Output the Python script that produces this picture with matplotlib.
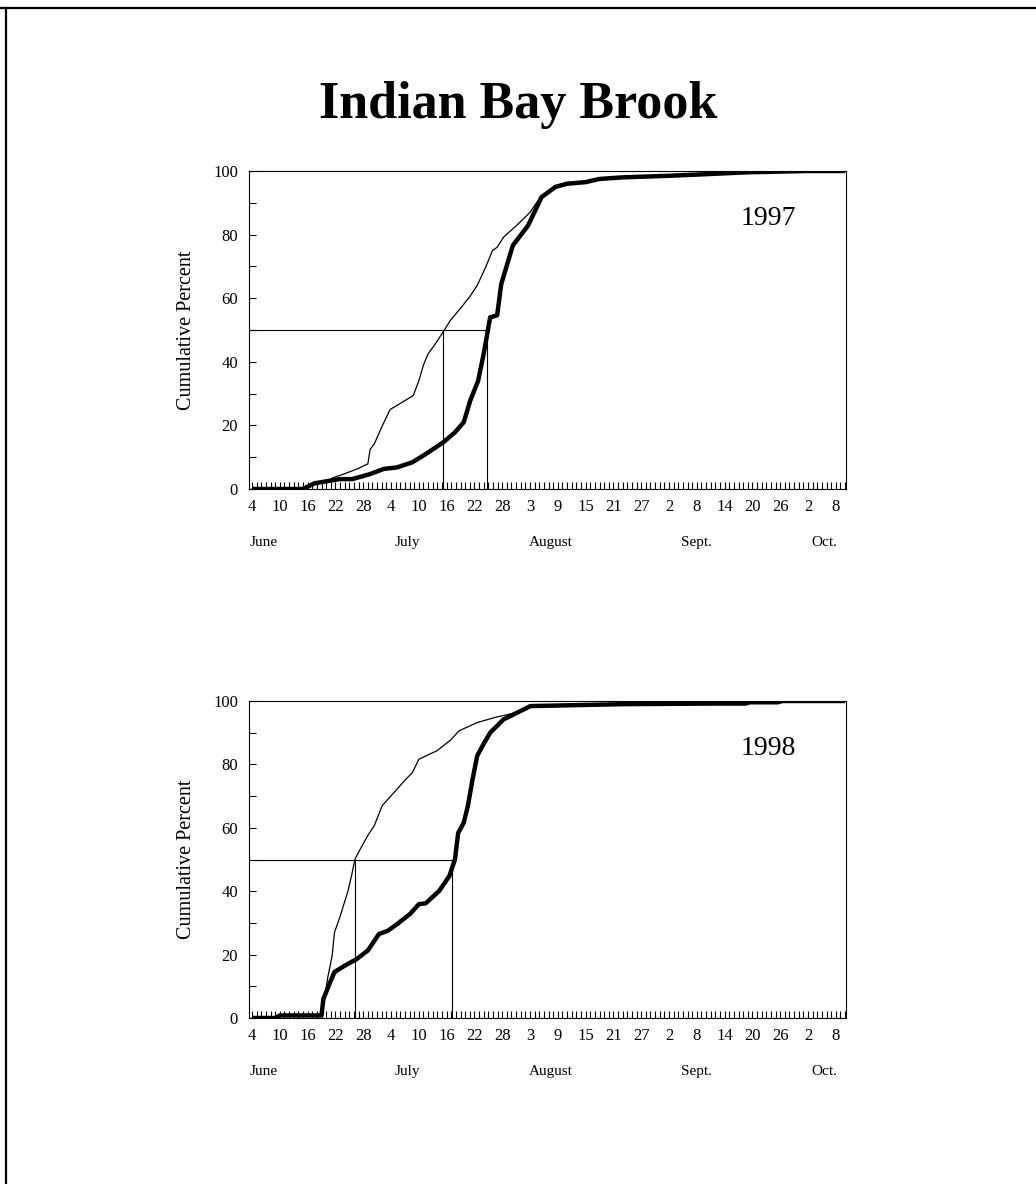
import matplotlib.pyplot as plt
from matplotlib.lines import Line2D
from matplotlib.ticker import MultipleLocator, FixedLocator, FixedFormatter

plt.rcParams['font.family'] = ['Liberation Serif', 'DejaVu Serif']

# days counted from June 4
tick_days = list(range(0, 127, 6))
tick_labels = ["4", "10", "16", "22", "28", "4", "10", "16", "22", "28",
               "3", "9", "15", "21", "27", "2", "8", "14", "20", "26", "2", "8"]
month_names = ["June", "July", "August", "Sept.", "Oct."]
month_days = [2.5, 33.5, 64.5, 96.0, 123.5]

# 1997 cumulative percent (thin and thick curves)
days_97_thin = [0, 11, 13.5, 16, 17.8, 20, 23, 25, 25.5, 26.4, 28, 29.8, 31.3, 33,
                34.8, 36, 37, 38, 39.5, 41.3, 42.8, 45.2, 47, 48.6, 50.5, 51.9,
                52.9, 54.3, 57.2, 60, 62, 62.5]
pct_97_thin = [0, 0, 1.8, 2.5, 3.7, 4.8, 6.5, 7.9, 12.5, 14.2, 19.5, 25, 26.3, 27.8,
               29.4, 34, 39, 42.5, 45.5, 49.5, 53, 57.2, 60.5, 64, 70, 75,
               76, 79.2, 83, 87, 91.3, 92]
days_97_thick = [0, 11, 13.5, 16, 18.8, 21.6, 25.5, 28.4, 31.3, 34.6, 37.5, 41.3,
                 43.8, 45.7, 47.1, 48.8, 50, 51.4, 52.9, 53.8, 56.3, 59.6, 62.5,
                 65.5, 68, 72, 75, 80, 90, 98, 107, 120, 128]
pct_97_thick = [0, 0, 1.8, 2.4, 3.1, 3.1, 4.7, 6.3, 6.8, 8.4, 11, 14.7,
                17.8, 21, 27.8, 34, 42.5, 54, 54.6, 64.5, 76.6, 82.9, 91.8,
                95, 96, 96.5, 97.5, 98, 98.5, 99, 99.6, 100, 100]
median_97 = (41.2, 50.8)

# 1998 cumulative percent
days_98_thin = [0, 5, 6, 15, 15.5, 16.3, 17.3, 17.8, 19, 20.7, 21.5, 22.2, 23, 25,
                26.4, 28.1, 31.3, 33, 34.6, 36, 38, 39.9, 42.8, 44.7, 48.6, 52.4,
                56.3, 57.2]
pct_98_thin = [0, 0, 0.8, 0.8, 4, 12.4, 19.7, 27, 32, 40, 45, 50, 52.3, 57.6,
               60.7, 67, 72.2, 75, 77.4, 81.6, 83, 84.3, 87.6, 90.6, 93.2, 94.8,
               96.1, 96.3]
days_98_thick = [0, 5, 6, 15, 15.4, 16.5, 17.8, 20, 22.6, 25, 27.4, 29.3, 31.3,
                 34.1, 36, 37.5, 40.4, 42.6, 43.8, 44.5, 45.7, 46.6, 47.6, 48.6,
                 50, 51.4, 54.3, 57.2, 60.1, 66.8, 80, 100, 106.5, 107.5, 113.5,
                 114.5, 128]
pct_98_thick = [0, 0, 0.8, 0.8, 6, 10, 14.5, 16.5, 18.6, 21.3, 26.5, 27.5, 29.6,
                32.8, 35.9, 36.2, 40.1, 44.8, 50, 58.4, 61.6, 67, 75.3, 82.7,
                86.5, 90, 94.2, 96.3, 98.4, 98.6, 99, 99.2, 99.2, 99.6, 99.6,
                100, 100]
median_98 = (22.2, 43.1)

X_MIN, X_MAX = -0.65, 128.2


def draw_panel(ax, d_thin, p_thin, d_thick, p_thick, medians, year):
    ax.plot(d_thin, p_thin, color='black', lw=0.9, solid_joinstyle='round')
    ax.plot(d_thick, p_thick, color='black', lw=3.2, solid_joinstyle='round',
            solid_capstyle='butt')
    # 50 % reference lines
    ax.plot([X_MIN, medians[1]], [50, 50], color='black', lw=0.8)
    for m in medians:
        ax.plot([m, m], [0, 50], color='black', lw=0.8)

    ax.set_xlim(X_MIN, X_MAX)
    ax.set_ylim(0, 100)
    ax.xaxis.set_major_locator(FixedLocator(tick_days))
    ax.xaxis.set_major_formatter(FixedFormatter(tick_labels))
    ax.xaxis.set_minor_locator(MultipleLocator(1))
    ax.yaxis.set_major_locator(MultipleLocator(20))
    ax.yaxis.set_minor_locator(MultipleLocator(10))
    ax.tick_params(axis='x', which='both', direction='in', length=5, width=0.8,
                   labelsize=12, pad=7)
    ax.tick_params(axis='y', which='both', direction='in', length=5, width=0.8,
                   labelsize=12, pad=8)
    for s in ax.spines.values():
        s.set_linewidth(0.8)
    ax.set_ylabel("Cumulative Percent", fontsize=14.5, labelpad=12.5)
    ax.text(111.5, 85, year, fontsize=20, ha='center', va='center')
    for name, d in zip(month_names, month_days):
        ax.text(d, -16.8, name, fontsize=11, ha='center', va='center')


fig = plt.figure(figsize=(10.36, 11.84), dpi=100)
fig.text(0.5, 1 - 105 / 1184, "Indian Bay Brook", fontsize=37.5, weight='bold',
         ha='center', va='center')

ax1 = fig.add_axes([249 / 1036, 1 - 489 / 1184, 597 / 1036, 318 / 1184])
draw_panel(ax1, days_97_thin, pct_97_thin, days_97_thick, pct_97_thick,
           median_97, "1997")

ax2 = fig.add_axes([249 / 1036, 1 - 1018 / 1184, 597 / 1036, 317 / 1184])
draw_panel(ax2, days_98_thin, pct_98_thin, days_98_thick, pct_98_thick,
           median_98, "1998")

# page frame
fig.add_artist(Line2D([0, 1], [1 - 8 / 1184, 1 - 8 / 1184], color='black', lw=1.6))
fig.add_artist(Line2D([6 / 1036, 6 / 1036], [0, 1 - 8 / 1184], color='black', lw=1.6))

fig.savefig("out.png", dpi=100)
